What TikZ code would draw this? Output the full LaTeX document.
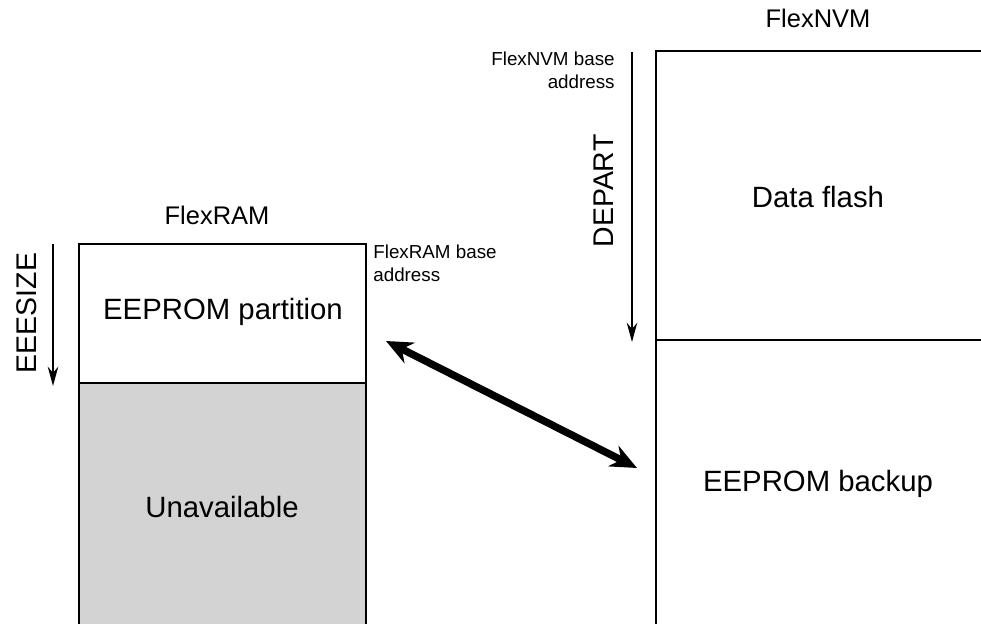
\documentclass[tikz,border=0pt]{standalone}
\usepackage{fontspec}
\setmainfont{Liberation Sans}
\usetikzlibrary{arrows.meta}

\begin{document}
\begin{tikzpicture}[x=0.02cm, y=-0.02cm, >={Stealth[length=11pt,width=6pt]},
  every node/.style={font=\fontsize{16.7}{19}\selectfont},
  wall/.style={line width=1.3pt},
  title/.style={font=\fontsize{14.5}{17}\selectfont},
  note/.style={font=\fontsize{10.7}{12.7}\selectfont, inner sep=0pt},
  span/.style={rotate=90, font=\fontsize{16.2}{19}\selectfont},
  size/.style={->, line width=0.9pt}]
\definecolor{Blocked}{HTML}{D3D3D3}
\useasboundingbox (0,0) rectangle (981,624);
\clip (0,0) rectangle (981,624);
% FlexRAM column
\fill[Blocked] (79,383) rectangle (366,640);
\draw[wall] (79,640)--(79,244)--(366,244)--(366,640); \draw[wall] (79,383)--(366,383);
\node[title] (ram) at (217,215) {FlexRAM};
\node (eeprom) at (223,312) {EEPROM partition};
\node (unavail) at (222,507) {Unavailable};
\node[note, anchor=north west, align=left] (rambase) at (373,245) {FlexRAM base\\address};
\coordinate (sizetop) at (53,244); \coordinate (sizebot) at (53,386);
\draw[size] (sizetop)--(sizebot); \node[span] (eeesize) at (27,313) {EEESIZE};
% FlexNVM column
\draw[wall] (656,640)--(656,51)--(990,51); \draw[wall] (656,340)--(990,340);
\node[title] (nvm) at (818,18) {FlexNVM};
\node (dflash) at (818,197) {Data flash};
\node (backup) at (818,484) {EEPROM backup};
\node[note, anchor=north east, align=right] (nvmbase) at (615,52) {FlexNVM base\\address};
\coordinate (parttop) at (632,52); \coordinate (partbot) at (632,342);
\draw[size] (parttop)--(partbot); \node[span] (depart) at (604,191) {DEPART};
% copy between partition and backup
\coordinate (swapA) at (386,341); \coordinate (swapB) at (637,468);
\draw[<->, line width=4.2pt, >={Stealth[length=15pt,width=13pt]}] (swapA)--(swapB);
\end{tikzpicture}
\end{document}
